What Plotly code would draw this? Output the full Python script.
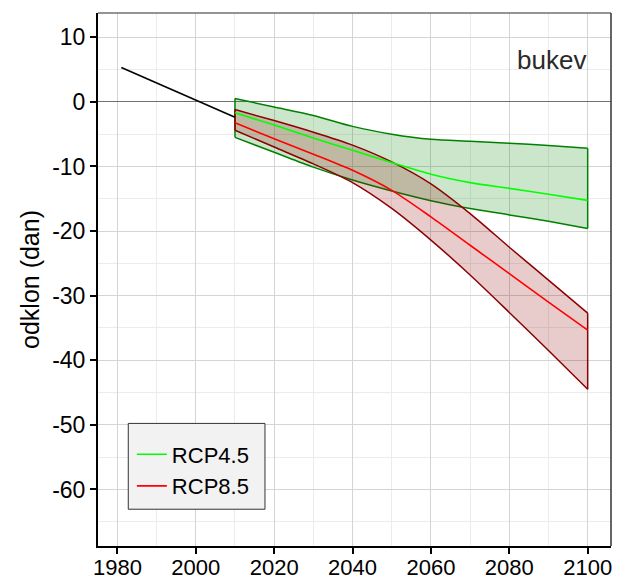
import plotly.graph_objects as go

# ---- data ----
hist_years = [1981, 2010]
hist_vals = [5.3, -2.4]

years = [2010, 2020, 2030, 2040, 2050, 2060, 2070, 2080, 2090, 2100]

rcp45_upper = [0.5, -0.8, -2.1, -3.8, -5.0, -5.8, -6.1, -6.4, -6.75, -7.2]
rcp45_mean = [-1.7, -3.6, -5.6, -7.5, -9.4, -11.2, -12.5, -13.4, -14.3, -15.25]
rcp45_lower = [-5.5, -7.8, -10.1, -12.1, -13.8, -15.3, -16.5, -17.5, -18.5, -19.6]

rcp85_upper = [-1.2, -2.9, -4.7, -6.7, -9.3, -12.7, -17.3, -22.5, -27.6, -32.7]
rcp85_mean = [-3.25, -5.7, -8.1, -10.6, -13.7, -17.8, -22.2, -26.6, -31.0, -35.35]
rcp85_lower = [-4.4, -7.0, -9.6, -12.5, -16.5, -21.4, -26.8, -32.6, -38.5, -44.5]

x_ticks = [1980, 2000, 2020, 2040, 2060, 2080, 2100]
y_ticks = [10, 0, -10, -20, -30, -40, -50, -60]
y_tick_labels = ["10", "0", "-10", "-20", "-30", "-40", "-50", "-60"]

FONT = "Liberation Sans"
fig = go.Figure()


def band(lower, upper, edge, fill):
    fig.add_trace(go.Scatter(x=years, y=lower, mode="lines",
                             line=dict(color=edge, width=1.5, shape="spline", smoothing=0.8),
                             showlegend=False, hoverinfo="skip"))
    fig.add_trace(go.Scatter(x=years, y=upper, mode="lines", fill="tonexty", fillcolor=fill,
                             line=dict(color=edge, width=1.5, shape="spline", smoothing=0.8),
                             showlegend=False, hoverinfo="skip"))
    for i in (0, -1):
        fig.add_trace(go.Scatter(x=[years[i], years[i]], y=[lower[i], upper[i]], mode="lines",
                                 line=dict(color=edge, width=1.5),
                                 showlegend=False, hoverinfo="skip"))


band(rcp45_lower, rcp45_upper, "#008000", "rgba(0,128,0,0.2)")
band(rcp85_lower, rcp85_upper, "#8b0000", "rgba(139,0,0,0.2)")

fig.add_trace(go.Scatter(x=years, y=rcp45_mean, mode="lines", name="RCP4.5",
                         line=dict(color="#00ff00", width=1.6, shape="spline", smoothing=0.8)))
fig.add_trace(go.Scatter(x=years, y=rcp85_mean, mode="lines", name="RCP8.5",
                         line=dict(color="#ff0000", width=1.6, shape="spline", smoothing=0.8)))
fig.add_trace(go.Scatter(x=hist_years, y=hist_vals, mode="lines",
                         line=dict(color="black", width=1.6), showlegend=False))

# panel border top / right
fig.add_shape(type="line", xref="paper", yref="paper", x0=0, x1=1, y0=1, y1=1,
              line=dict(color="#707070", width=1.5), layer="above")
fig.add_shape(type="line", xref="paper", yref="paper", x0=1, x1=1, y0=0, y1=1,
              line=dict(color="#333333", width=1.5), layer="above")
# legend box
fig.add_shape(type="rect", xref="paper", yref="paper", x0=0.059, x1=0.3255, y0=0.069, y1=0.230,
              fillcolor="#f2f2f2", line=dict(color="#333333", width=1), layer="above")

fig.add_annotation(x=2100, y=6.4, xref="x", yref="y", text="bukev", showarrow=False,
                   xanchor="right", yanchor="middle",
                   font=dict(family=FONT, size=26, color="#2a2a2a"))

fig.update_layout(
    width=620, height=580,
    margin=dict(l=98, r=9, t=13, b=34, autoexpand=False),
    paper_bgcolor="white", plot_bgcolor="white",
    font=dict(family=FONT, size=23, color="black"),
    showlegend=True,
    legend=dict(x=0.066, y=0.1417, xanchor="left", yanchor="middle", traceorder="normal",
                bgcolor="rgba(0,0,0,0)", borderwidth=0,
                font=dict(family=FONT, size=22, color="black")),
    xaxis=dict(range=[1975.05, 2105.95], tickmode="array", tickvals=x_ticks,
               ticks="outside", ticklen=6, tickwidth=1.5, tickcolor="black",
               ticklabelstandoff=-5,
               showline=True, linecolor="black", linewidth=2, automargin=False,
               showgrid=True, gridcolor="#d4d4d4", gridwidth=1,
               minor=dict(tickvals=[1990, 2010, 2030, 2050, 2070, 2090],
                          showgrid=True, gridcolor="#ececec", gridwidth=1, ticks=""),
               zeroline=False, tickfont=dict(size=22)),
    yaxis=dict(range=[-68.75, 13.75], tickmode="array", tickvals=y_ticks,
               ticktext=y_tick_labels,
               ticks="outside", ticklen=6, tickwidth=1.5, tickcolor="black",
               showline=True, linecolor="black", linewidth=2, automargin=False,
               showgrid=True, gridcolor="#d4d4d4", gridwidth=1,
               minor=dict(tickvals=[5, -5, -15, -25, -35, -45, -55, -65],
                          showgrid=True, gridcolor="#ececec", gridwidth=1, ticks=""),
               zeroline=True, zerolinecolor="#707070", zerolinewidth=1.3,
               title=dict(text="odklon (dan)", standoff=5, font=dict(size=25)),
               tickfont=dict(size=23)),
)

fig.write_html("out.html")
